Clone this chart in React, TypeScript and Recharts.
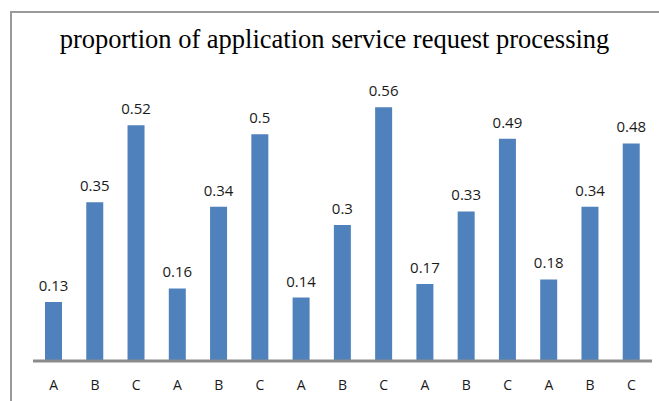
import { BarChart, Bar, XAxis, YAxis, LabelList } from 'recharts';

const categories = ['A', 'B', 'C', 'A', 'B', 'C', 'A', 'B', 'C', 'A', 'B', 'C', 'A', 'B', 'C'];
const proportions = [0.13, 0.35, 0.52, 0.16, 0.34, 0.5, 0.14, 0.3, 0.56, 0.17, 0.33, 0.49, 0.18, 0.34, 0.48];

const chartData = categories.map((label, i) => ({ id: i, label, value: proportions[i] }));

export default function App() {
    return (
        <div style={{ position: 'fixed', top: 0, left: 0, width: 659, height: 401, background: '#fff', overflow: 'hidden' }}>
            {/* frame of the original chart, cut off at the right and bottom */}
            <div
                style={{
                    position: 'absolute',
                    top: 11,
                    left: 10,
                    width: 700,
                    height: 450,
                    borderTop: '2px solid #9a9a9a',
                    borderLeft: '2px solid #9a9a9a',
                }}
            />
            <div
                style={{
                    position: 'absolute',
                    top: 26,
                    left: 0,
                    width: 669,
                    textAlign: 'center',
                    fontFamily: '"Liberation Serif", serif',
                    fontSize: 26.5,
                    lineHeight: 1,
                    color: '#000',
                }}
            >
                proportion of application service request processing
            </div>
            <div style={{ position: 'absolute', top: 0, left: 0 }}>
                <BarChart
                    width={659}
                    height={401}
                    data={chartData}
                    margin={{ top: 89, right: 7, left: 33, bottom: 0 }}
                >
                    <XAxis
                        dataKey="label"
                        height={40}
                        stroke="#8c8c8c"
                        strokeWidth={3}
                        tickLine={false}
                        tick={{ fill: '#1a1a1a', fontSize: 14, fontFamily: '"Open Sans", sans-serif' }}
                        tickMargin={13}
                    />
                    <YAxis hide domain={[0, 0.6]} />
                    <Bar dataKey="value" fill="#4f81bd" barSize={17} isAnimationActive={false}>
                        <LabelList
                            dataKey="value"
                            position="top"
                            offset={11}
                            fill="#1a1a1a"
                            fontSize={15}
                            fontFamily='"Open Sans", sans-serif'
                        />
                    </Bar>
                </BarChart>
            </div>
        </div>
    );
}
